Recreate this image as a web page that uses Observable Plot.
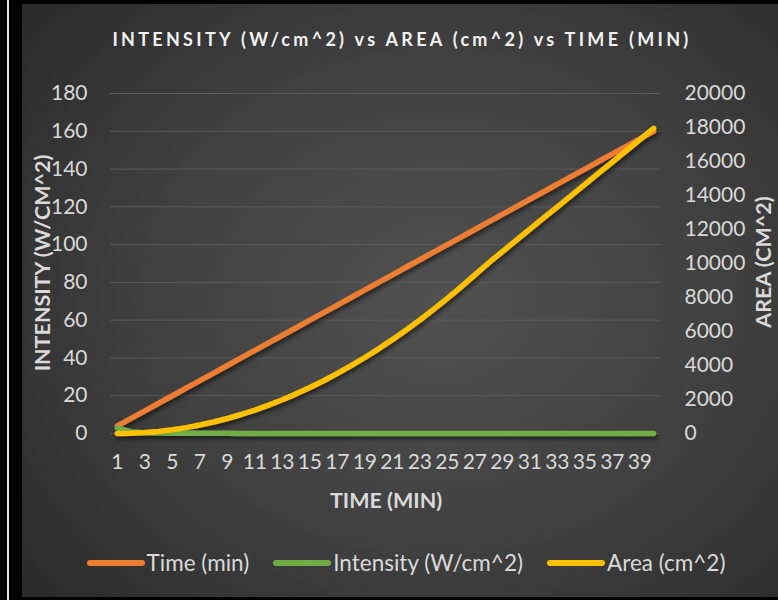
<!DOCTYPE html>
<html><head><meta charset="utf-8">
<script src="https://cdn.jsdelivr.net/npm/d3@7"></script>
<script src="https://cdn.jsdelivr.net/npm/@observablehq/plot@0.6"></script>
<style>
html,body{margin:0;padding:0;background:#000;}
#wrap{position:relative;width:778px;height:600px;background:#000;overflow:hidden;font-family:Lato,"Open Sans",sans-serif;}
#vline{position:absolute;left:7px;top:0;width:2px;height:600px;background:#e6e6e6;}
#panel{position:absolute;left:22px;top:4px;width:756px;height:593px;background:radial-gradient(ellipse 70% 75% at 55% 50%, #515151 0%, #404040 55%, #2b2b2b 100%);}
#chart{position:absolute;left:0;top:0;}
.t{position:absolute;color:#d9d9d9;white-space:nowrap;}
#title{left:2px;width:800px;top:28px;text-align:center;font-weight:700;font-size:18px;letter-spacing:3.3px;color:#f2f2f2;}
.ax{font-weight:700;font-size:21.5px;}
#legend{position:absolute;top:549px;left:0;width:812px;display:flex;justify-content:center;align-items:center;gap:24px;color:#d9d9d9;font-size:22.5px;}
.item{display:flex;align-items:center;}
.sw{width:58px;height:6px;border-radius:3px;margin-right:2px;}
</style></head><body>
<div id="wrap">
  <div id="vline"></div>
  <div id="panel"></div>
  <div id="chart"></div>
  <div class="t" id="title">INTENSITY (W/cm^2) vs AREA (cm^2) vs TIME (MIN)</div>
  <div class="t ax" id="ylab" style="left:42px;top:263px;transform:translate(-50%,-50%) rotate(-90deg);">INTENSITY (W/CM^2)</div>
  <div class="t ax" id="y2lab" style="left:763px;top:262px;transform:translate(-50%,-50%) rotate(-90deg);">AREA (CM^2)</div>
  <div class="t ax" id="xlab" style="left:386px;top:500px;transform:translate(-50%,-50%);">TIME (MIN)</div>
  <div id="legend"></div>
</div>
<script>
const minutes = [1,2,3,4,5,6,7,8,9,10,11,12,13,14,15,16,17,18,19,20,21,22,23,24,25,26,27,28,29,30,31,32,33,34,35,36,37,38,39,40];
const timeMin = [4,8,12,16,20,24,28,32,36,40,44,48,52,56,60,64,68,72,76,80,84,88,92,96,100,104,108,112,116,120,124,128,132,136,140,144,148,152,156,160];
const intensity = [3,0.8,0.4,0.25,0.18,0.13,0.1,0.08,0.07,0.06,0.05,0.04,0.04,0.03,0.03,0.03,0.02,0.02,0.02,0.02,0.02,0.02,0.01,0.01,0.01,0.01,0.01,0.01,0.01,0.01,0.01,0.01,0.01,0.01,0.01,0.01,0.01,0.01,0.01,0.01];
const area = [0,14,55,124,221,345,497,676,883,1118,1380,1670,1987,2332,2705,3105,3533,3988,4471,4982,5520,6086,6679,7300,7949,8625,9329,10030,10700,11360,12020,12680,13330,13990,14650,15310,15970,16630,17290,17950];
const seriesNames = ["Time (min)","Intensity (W/cm^2)","Area (cm^2)"];
const seriesColors = ["#ED7D31","#70AD47","#FFC000"];
const leftTicks = [0,20,40,60,80,100,120,140,160,180];
const rightTicks = [0,2000,4000,6000,8000,10000,12000,14000,16000,18000,20000];
const xTicks = [1,3,5,7,9,11,13,15,17,19,21,23,25,27,29,31,33,35,37,39];

const LEFT_MAX = 180, RIGHT_MAX = 20000;
const k = LEFT_MAX / RIGHT_MAX;

const rows = [];
minutes.forEach((m, i) => rows.push({m, v: timeMin[i], s: seriesNames[0]}));
minutes.forEach((m, i) => rows.push({m, v: intensity[i], s: seriesNames[1]}));
minutes.forEach((m, i) => rows.push({m, v: area[i] * k, s: seriesNames[2]}));

const plot = Plot.plot({
  width: 778, height: 600,
  marginLeft: 110, marginRight: 118, marginTop: 93, marginBottom: 167,
  style: {background: "transparent", color: "#d9d9d9", fontFamily: "Lato, 'Open Sans', sans-serif", fontSize: "21px"},
  x: {type: "point", domain: minutes, padding: 0.5, round: false},
  y: {domain: [0, LEFT_MAX]},
  color: {domain: seriesNames, range: seriesColors},
  marks: [
    Plot.gridY(leftTicks, {stroke: "#5c5c5c", strokeOpacity: 1, strokeWidth: 1}),
    Plot.axisY(leftTicks, {anchor: "left", tickSize: 0, tickPadding: 23, label: null, fontSize: 21}),
    Plot.axisY(rightTicks.map(d => d * k), {anchor: "right", tickSize: 0, tickPadding: 24, label: null, fontSize: 21, textAnchor: "start", tickFormat: d => String(Math.round(d / k))}),
    Plot.axisX(xTicks, {anchor: "bottom", tickSize: 0, tickPadding: 21, label: null, fontSize: 21}),
    Plot.line(rows, {x: "m", y: "v", z: "s", stroke: "s", strokeWidth: 5.5, strokeLinecap: "round", strokeLinejoin: "round"})
  ]
});

// drop shadow on lines
const ns = "http://www.w3.org/2000/svg";
const defs = document.createElementNS(ns, "defs");
defs.innerHTML = '<filter id="sh" x="-10%" y="-10%" width="120%" height="130%"><feDropShadow dx="1.5" dy="3" stdDeviation="2" flood-color="#000" flood-opacity="0.55"/></filter>';
plot.insertBefore(defs, plot.firstChild);
plot.querySelectorAll('g[aria-label="line"]').forEach(g => g.setAttribute("filter", "url(#sh)"));
document.getElementById("chart").appendChild(plot);

const legend = document.getElementById("legend");
seriesNames.forEach((n, i) => {
  const it = document.createElement("div"); it.className = "item";
  const sw = document.createElement("div"); sw.className = "sw"; sw.style.background = seriesColors[i];
  const tx = document.createElement("span"); tx.textContent = n;
  it.appendChild(sw); it.appendChild(tx); legend.appendChild(it);
});
</script>
</body></html>
